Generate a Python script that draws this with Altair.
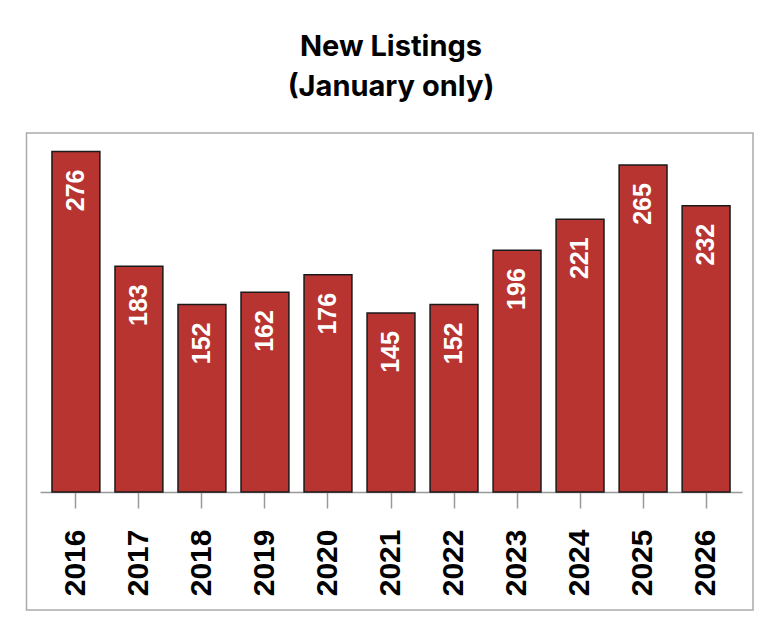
import altair as alt
import pandas as pd

years = ["2016", "2017", "2018", "2019", "2020", "2021", "2022", "2023", "2024", "2025", "2026"]
listings = [276, 183, 152, 162, 176, 145, 152, 196, 221, 265, 232]

df = pd.DataFrame({"year": years, "listings": listings})

W, H = 702, 359
LABEL_FONT = "Liberation Sans"

xenc = alt.X(
    "year:N",
    sort=years,
    title=None,
    scale=alt.Scale(paddingInner=0.24, paddingOuter=0.19),
    axis=alt.Axis(
        labelAngle=-90,
        labelFont=LABEL_FONT,
        labelFontSize=30,
        labelFontWeight="bold",
        labelColor="#000000",
        labelPadding=21,
        tickSize=16,
        tickColor="#999999",
        tickWidth=1.5,
        domainColor="#999999",
        domainWidth=1.5,
    ),
)
yenc = alt.Y("listings:Q", scale=alt.Scale(domain=[0, 291], nice=False, zero=True), axis=None)

base = alt.Chart(df)

bars = base.mark_bar(color="#B73430", stroke="#1a1a1a", strokeWidth=1.5).encode(
    x=xenc, y=yenc
)

labels = base.mark_text(
    angle=270,
    align="right",
    baseline="middle",
    dx=-18,
    color="white",
    font=LABEL_FONT,
    fontSize=25,
    fontWeight="bold",
).encode(x=alt.X("year:N", sort=years), y=alt.Y("listings:Q"), text="listings:Q")

border = alt.Chart(pd.DataFrame({"k": [0]})).mark_rect(
    fill=None, stroke="#aaaaaa", strokeWidth=1.5
).encode(
    x=alt.value(-13.5), x2=alt.value(713), y=alt.value(0), y2=alt.value(477)
)

chart = alt.layer(border, bars, labels).properties(
    width=W,
    height=H,
    title=alt.TitleParams(
        text=["New Listings", "(January only)"],
        font="Inter",
        fontSize=29,
        fontWeight="bold",
        color="#000000",
        anchor="middle",
        lineHeight=40,
        offset=30,
    ),
    autosize=alt.AutoSizeParams(type="none"),
    padding={"left": 32, "top": 125, "right": 24, "bottom": 120},
).configure_view(strokeWidth=0)

chart.save("out.html", embed_options={"renderer": "svg", "actions": False})
